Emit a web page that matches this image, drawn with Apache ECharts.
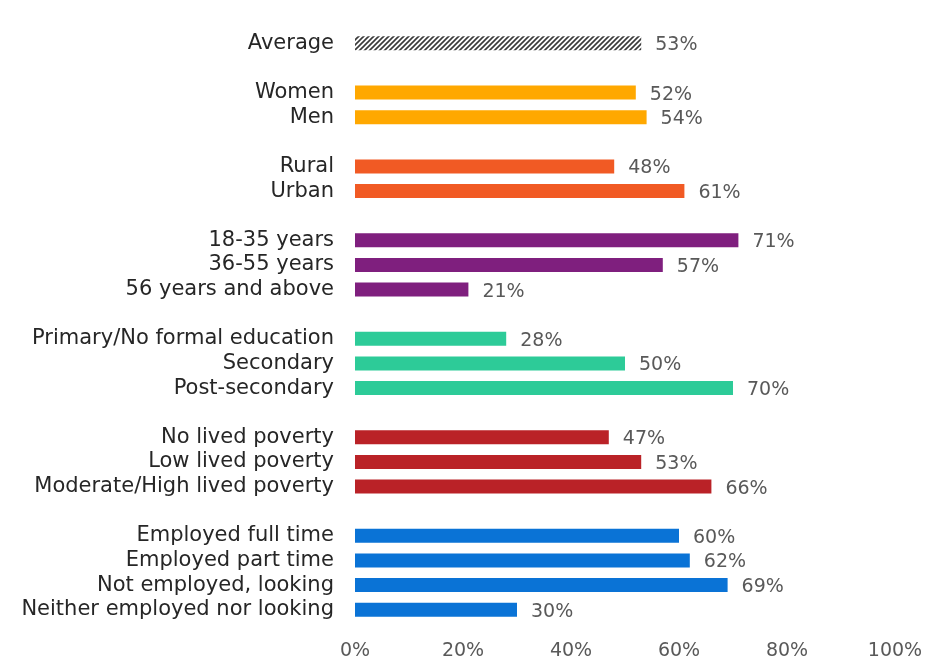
<!DOCTYPE html>
<html>
<head>
<meta charset="utf-8">
<script src="https://cdn.jsdelivr.net/npm/echarts@6/dist/echarts.min.js"></script>
<style>html,body{margin:0;padding:0;background:#fff}#c{width:942px;height:670px}</style>
</head>
<body>
<div id="c"></div>
<script>
const averageLabels = ['Average'];
const averageValues = [53];
const genderLabels = ['Women', 'Men'];
const genderValues = [52, 54];
const locationLabels = ['Rural', 'Urban'];
const locationValues = [48, 61];
const ageLabels = ['18-35 years', '36-55 years', '56 years and above'];
const ageValues = [71, 57, 21];
const educationLabels = ['Primary/No formal education', 'Secondary', 'Post-secondary'];
const educationValues = [28, 50, 70];
const povertyLabels = ['No lived poverty', 'Low lived poverty', 'Moderate/High lived poverty'];
const povertyValues = [47, 53, 66];
const employmentLabels = ['Employed full time', 'Employed part time', 'Not employed, looking', 'Neither employed nor looking'];
const employmentValues = [60, 62, 69, 30];
const tickValues = [0, 20, 40, 60, 80, 100];

const groupLabels = [averageLabels, genderLabels, locationLabels, ageLabels, educationLabels, povertyLabels, employmentLabels];
const groupValues = [averageValues, genderValues, locationValues, ageValues, educationValues, povertyValues, employmentValues];

// styles
const hatch = (function () {
  const c = document.createElement('canvas');
  c.width = 5; c.height = 5;
  const g = c.getContext('2d');
  g.fillStyle = '#ffffff'; g.fillRect(0, 0, 5, 5);
  g.strokeStyle = '#3a3a3a'; g.lineWidth = 1.6;
  g.beginPath();
  g.moveTo(-1, 6); g.lineTo(6, -1);
  g.moveTo(-6, 6); g.lineTo(1, -1);
  g.moveTo(4, 6); g.lineTo(11, -1);
  g.stroke();
  return c;
})();
const groupColors = [{ image: hatch, repeat: 'repeat' }, '#FFA800', '#F15A24', '#7F1F7E', '#2DCB98', '#BA2227', '#0A73D6'];

const categories = [];
const data = [];
groupLabels.forEach((labels, gi) => {
  if (gi > 0) {
    const blank = ' '.repeat(gi);
    categories.push(blank);
    data.push({ value: null });
  }
  labels.forEach((lab, i) => {
    categories.push(lab);
    data.push({ value: groupValues[gi][i], itemStyle: { color: groupColors[gi] } });
  });
});

const chart = echarts.init(document.getElementById('c'), null, { renderer: 'canvas' });
chart.setOption({
  animation: false,
  backgroundColor: '#ffffff',
  grid: { left: 355, right: 47, top: 31, bottom: 48, containLabel: false },
  xAxis: {
    type: 'value', min: tickValues[0], max: tickValues[tickValues.length - 1], interval: 20,
    axisLine: { show: false }, axisTick: { show: false }, splitLine: { show: false },
    axisLabel: { formatter: v => v + '%', color: '#595959', fontSize: 19, fontFamily: 'DejaVu Sans', margin: 20 }
  },
  yAxis: {
    type: 'category', inverse: true, data: categories,
    axisLine: { show: false }, axisTick: { show: false },
    axisLabel: { interval: 0, color: '#262626', fontSize: 21, fontFamily: 'DejaVu Sans', margin: 21 }
  },
  series: [{
    type: 'bar', data: data, barWidth: 14,
    label: {
      show: true, position: 'right', distance: 14, offset: [0, 2],
      formatter: p => p.value == null ? '' : p.value + '%',
      color: '#595959', fontSize: 19, fontFamily: 'DejaVu Sans'
    }
  }]
});
</script>
</body>
</html>
